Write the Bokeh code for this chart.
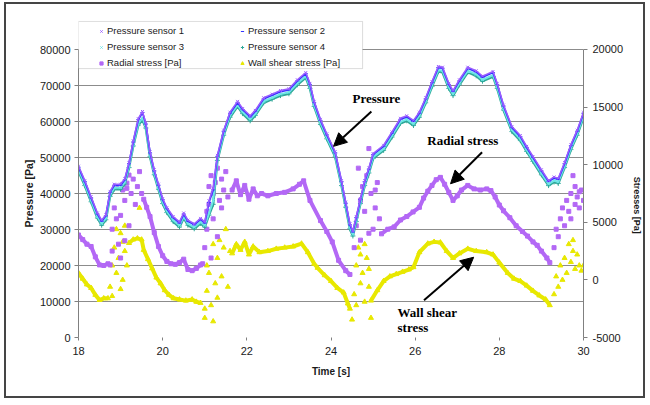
from bokeh.plotting import figure
from bokeh.models import (Range1d, LinearAxis, FixedTicker, NumeralTickFormatter, Legend,
                          LegendItem, Label, Arrow, NormalHead, BoxAnnotation)
from bokeh.embed import file_html
from bokeh.resources import INLINE

nan = float("nan")
NB = "\u00a0"

# ---------------- data ----------------
time_p = [18.0, 18.15, 18.3, 18.45, 18.55, 18.65, 18.75, 18.85, 19.0, 19.1,
          19.2, 19.3, 19.42, 19.52, 19.6, 19.7, 19.8, 19.9, 20.0, 20.1,
          20.25, 20.4, 20.5, 20.6, 20.75, 20.9, 21.0, 21.1, 21.2, 21.3,
          21.45, 21.6, 21.78, 21.9, 22.08, 22.2, 22.4, 22.6, 22.8, 23.0,
          23.2, 23.4, 23.5, 23.6, 23.75, 23.9, 24.1, 24.25, 24.35, 24.45,
          24.52, 24.6, 24.7, 24.8, 24.9, 25.0, 25.25, 25.45, 25.65, 25.8,
          25.96, 26.1, 26.25, 26.4, 26.55, 26.65, 26.8, 26.9, 27.05, 27.25,
          27.45, 27.6, 27.85, 27.95, 28.1, 28.3, 28.5, 28.65, 28.8, 29.0,
          29.17, 29.3, 29.4, 29.55, 29.7, 29.85, 30.0]
sensor1 = [47600, 43600, 39100, 34600, 32600, 34100, 40600, 42600, 42600, 44100,
           48600, 54600, 60800, 62800, 59600, 51600, 46600, 42600, 38600, 36100,
           33600, 32100, 34600, 32600, 31600, 33100, 32100, 38000, 41500, 50600,
           57600, 62600, 65600, 63600, 61600, 63100, 66600, 67600, 68600, 69100,
           71600, 73600, 70600, 65600, 60600, 56600, 51600, 43600, 37600, 31600,
           29600, 33600, 38600, 43600, 47100, 51100, 53400, 57100, 60900, 61600,
           60300, 62600, 66600, 71100, 75300, 75100, 70600, 68600, 71600, 75100,
           74100, 72600, 73900, 70600, 64600, 58600, 56100, 53100, 50300, 46600,
           43600, 44600, 44200, 48600, 53600, 57600, 62600]
sensor2 = [47300, 43300, 38800, 34300, 32300, 33800, 40300, 42300, 42300, 43800,
           48300, 54300, 60500, 62500, 59300, 51300, 46300, 42300, 38300, 35800,
           33300, 31800, 34300, 32300, 31300, 32800, 31800, 37500, 41000, 50300,
           57300, 62300, 65300, 63300, 61300, 62800, 66300, 67300, 68300, 68800,
           71300, 73300, 70300, 65300, 60300, 56300, 51300, 43300, 37300, 31300,
           29300, 33300, 38300, 43300, 46800, 50800, 53100, 56800, 60600, 61300,
           60000, 62300, 66300, 70800, 75000, 74800, 70300, 68300, 71300, 74800,
           73800, 72300, 73600, 70300, 64300, 58300, 55800, 52800, 50000, 46300,
           43300, 44300, 43900, 48300, 53300, 57300, 62300]
sensor3 = [46600, 42600, 38100, 33600, 31600, 33100, 39600, 41600, 41600, 43100,
           47600, 53600, 59400, 61000, 58600, 50600, 45600, 41600, 37600, 35100,
           32600, 31100, 33600, 31600, 30600, 32100, 31100, 34500, 38000, 49600,
           56600, 61600, 64600, 62600, 60600, 62100, 65600, 66600, 67600, 68100,
           70600, 72600, 69600, 64600, 59600, 55600, 50600, 42600, 36600, 30600,
           28600, 32600, 37600, 42600, 46100, 50100, 52400, 56100, 59900, 60600,
           59300, 61600, 65600, 70100, 74300, 74100, 69600, 67600, 70600, 74100,
           73100, 71600, 72900, 69600, 63600, 57600, 55100, 52100, 49300, 45600,
           42600, 43600, 43200, 47600, 52600, 56600, 61600]
sensor4 = [46200, 42200, 37700, 33200, 31200, 32700, 39200, 41200, 41200, 42700,
           47200, 53200, 59000, 60500, 58200, 50200, 45200, 41200, 37200, 34700,
           32200, 30700, 33200, 31200, 30200, 31700, 30700, 34000, 37000, 49200,
           56200, 61200, 64200, 62200, 60200, 61700, 65200, 66200, 67200, 67700,
           70200, 72200, 69200, 64200, 59200, 55200, 50200, 42200, 36200, 30200,
           28200, 32200, 37200, 42200, 45700, 49700, 52000, 55700, 59500, 60200,
           58900, 61200, 65200, 69700, 73900, 73700, 69200, 67200, 70200, 73700,
           72700, 71200, 72500, 69200, 63200, 57200, 54700, 51700, 48900, 45200,
           42200, 43200, 42800, 47200, 52200, 56200, 61200]

# radial stress, continuous stretches (right axis, Pa); nan separates stretches
radial_t = [18.0, 18.1, 18.2, 18.3, 18.4, 18.5, 18.6, 18.7, 18.75, nan,
            19.55, 19.62, 19.7, 19.8, 19.9, 20.0, 20.1, 20.2, 20.3, 20.4, 20.5, 20.6, 20.7, 20.8, 20.9, 20.95, nan,
            21.65, 21.75, 21.85, 21.95, 22.05, 22.15, 22.25, 22.35, 22.5, 22.7, 22.9, 23.1, 23.25, 23.35, 23.5,
            23.75, 23.9, 24.03, 24.18, 24.35, 24.45, nan,
            25.2, 25.35, 25.5, 25.65, 25.8, 25.95, 26.1, 26.2, 26.3, 26.4, 26.5, 26.6, 26.7, 26.8, 26.9, 27.0,
            27.1, 27.25, 27.4, 27.55, 27.7, 27.8, 27.9, 28.0, 28.1, 28.25, 28.4, 28.55, 28.67, 28.8, 28.9, 29.0,
            29.13, 29.2]
radial_v = [3900, 3500, 3100, 2900, 2000, 1300, 1250, 1400, 1300, nan,
            7000, 6300, 5500, 4100, 2900, 2100, 1600, 1400, 1350, 1500, 1800, 900, 800, 1000, 1300, 1400, nan,
            7800, 8600, 7400, 8200, 7000, 7900, 7300, 7500, 7300, 7500, 7600, 7900, 8300, 8600, 6900,
            5150, 4200, 3300, 1700, 800, 470, nan,
            4000, 4400, 4600, 5200, 5500, 5900, 6300, 7100, 7700, 8200, 8700, 8900, 8300, 7600, 6900, 7300,
            7800, 8200, 7900, 7800, 7900, 7750, 7200, 6500, 6000, 5400, 4700, 4200, 3800, 3300, 3000, 2500,
            1900, 1500]
# radial stress, scattered points
radial_sc_t = [18.8, 18.85, 18.9, 18.95, 19.0, 19.05, 19.1, 19.15, 19.2, 19.25, 19.3, 19.35, 19.4, 19.45, 19.5,
               18.8, 19.0, 19.1, 18.9, 19.2, 19.05, 19.15,
               21.0, 21.05, 21.1, 21.15, 21.2, 21.25, 21.3, 21.35, 21.4, 21.45, 21.5, 21.55,
               21.05, 21.2, 21.3, 21.15, 21.1, 21.4,
               24.55, 24.6, 24.65, 24.7, 24.75, 24.8, 24.85, 24.9, 24.95, 25.0, 25.05, 25.1, 25.15,
               24.7, 24.9, 25.05,
               29.3, 29.35, 29.4, 29.45, 29.5, 29.55, 29.6, 29.65, 29.7, 29.75, 29.8, 29.85, 29.9, 29.95, 30.0,
               29.7, 29.8, 29.9]
radial_sc_v = [4400, 6250, 8100, 3100, 5600, 7800, 6900, 8400, 9100, 7500, 8750, 6550, 8100, 9400, 7500,
               2500, 1900, 3400, 5300, 4700, 8300, 7950,
               2800, 4400, 6550, 9050, 7500, 8450, 9700, 6900, 8750, 7800, 9400, 7200,
               5950, 5300, 3750, 1900, 8100, 6250,
               2800, 4700, 9700, 6900, 8100, 5950, 9050, 11400, 7500, 4400, 6250, 8450, 5300,
               3450, 4050, 7800,
               2800, 4400, 3750, 5300, 6250, 4700, 6900, 5950, 7500, 9050, 6550, 7200, 6250, 7800, 6900,
               5300, 8100, 7650]

# wall shear stress, continuous stretches (right axis, Pa)
wall_t = [18.0, 18.1, 18.2, 18.3, 18.4, 18.5, 18.6, 18.7, nan,
          19.2, 19.3, 19.4, 19.5, 19.55, 19.65, 19.75, 19.85, 19.95, 20.05, 20.15, 20.26, 20.4, 20.55, 20.7,
          20.8, 20.9, nan,
          21.65, 21.75, 21.85, 21.95, 22.05, 22.15, 22.3, 22.5, 22.7, 22.9, 23.1, 23.3, 23.45, 23.6, 23.68,
          23.85, 24.0, 24.15, 24.3, 24.4, 24.45, nan,
          24.95, 25.1, 25.25, 25.4, 25.55, 25.7, 25.85, 25.96, 26.1, 26.3, 26.45, 26.6, 26.75, 26.9, 27.05,
          27.25, 27.45, 27.7, 27.85, 28.0, 28.2, 28.35, 28.5, 28.65, 28.8, 28.95, 29.1, 29.2]
wall_v = [600, 100, -400, -700, -1300, -1750, -1600, -1600, nan,
          3200, 3500, 3600, 3500, 2600, 1800, 1000, 200, -300, -900, -1300, -1600, -1700, -1800, -1700,
          -1900, -2000, nan,
          2300, 3100, 2600, 3300, 2200, 2900, 2400, 2500, 2700, 2800, 2900, 3150, 2400, 1400, 1050,
          400, -100, -700, -1100, -2050, -2500, nan,
          -1800, -900, -100, 300, 500, 700, 900, 1100, 2400, 3150, 3300, 3250, 2500, 1900, 2300,
          2700, 2500, 2400, 2200, 1500, 600, 100, -100, -500, -950, -1350, -1700, -2200]
wall_sc_t = [18.75, 18.8, 18.85, 18.9, 18.95, 19.0, 19.05, 19.1, 19.15, 18.9, 19.0, 19.1, 19.45, 18.8, 19.05,
             21.0, 21.05, 21.1, 21.15, 21.2, 21.25, 21.3, 21.35, 21.4, 21.45, 21.5, 21.55, 21.6,
             21.05, 21.2, 21.3, 21.0,
             24.5, 24.55, 24.6, 24.65, 24.7, 24.75, 24.8, 24.85, 24.9, 24.95, 24.6, 24.7, 24.8, 24.9,
             29.3, 29.35, 29.4, 29.45, 29.5, 29.55, 29.6, 29.65, 29.7, 29.75, 29.8, 29.85, 29.9, 29.95, 30.0,
             29.75]
wall_sc_v = [-600, 1250, 2800, 600, 1900, 4050, 0, 2500, 1250, 4400, -800, 4700, 6250, -1400, 3300,
             -3300, -950, 600, -2200, -3600, -300, 1900, 3450, 300, 2800, 4400, -600, 2500,
             1250, 3100, -1550, -2500,
             -3450, -1250, 1250, 2800, -300, 600, -1900, 1900, -600, -3300, -2200, 2200, 3100, 950,
             -1250, 300, -600, 1250, 0, 1900, 600, 3100, 1550, 3450, 950, 2200, 1250, 800, 1250,
             2500]

x_ticks = [18, 20, 22, 24, 26, 28, 30]
p_ticks = [0, 10000, 20000, 30000, 40000, 50000, 60000, 70000, 80000]
grid_ticks = [10000, 20000, 30000, 40000, 50000, 60000, 70000, 80000]
s_ticks = [-5000, 0, 5000, 10000, 15000, 20000]

legend_labels = ["Pressure sensor 1", "Pressure sensor 2", "Pressure sensor 3",
                 "Pressure sensor 4", "Radial stress [Pa]", "Wall shear stress [Pa]"]

note_text = ["Pressure", "Radial stress", "Wall shear", "stress"]
note_x = [24.51, 26.29, 25.58, 25.58]
note_y = [66400, 54700, 6900, 2800]
arrow_x0 = [24.96, 27.59, 26.21]
arrow_y0 = [62800, 51480, 10340]
arrow_x1 = [24.06, 26.84, 27.39]
arrow_y1 = [53100, 42700, 22300]

# ---------------- styling ----------------
SANS = "Liberation Sans"
SERIF = "Liberation Serif"
C_S1, C_S2, C_S3, C_S4 = "#9a5cff", "#3333ff", "#6ee6e6", "#2fa898"
C_RAD, C_WALL = "#b368f5", "#e8e800"

# The page frame is drawn by CSS around the canvas (canvas starts at page x=6, y=4).
# Plot frame is extended upwards so the legend is not clipped; axes keep their bounds.
p = figure(width=641, height=396, output_backend="svg", toolbar_location=None,
           x_range=Range1d(18, 30), y_range=Range1d(0, 88056),
           min_border_left=72, min_border_right=64, min_border_top=16, min_border_bottom=63,
           styles={"margin-left": "4px", "margin-top": "2px", "border": "2px solid #454545"})
p.extra_y_ranges = {"s": Range1d(-5000, 22517)}
p.background_fill_color = "white"
p.border_fill_color = "white"
p.outline_line_color = None
p.xgrid.visible = False
p.ygrid.ticker = FixedTicker(ticks=grid_ticks)
p.ygrid.grid_line_color = "#8c8c8c"
p.ygrid.grid_line_width = 1

# axes
xa = p.xaxis[0]
xa.ticker = FixedTicker(ticks=x_ticks)
xa.axis_line_color = None
xa.major_tick_line_color = "#808080"
xa.major_tick_in = 0
xa.major_tick_out = 3
xa.minor_tick_line_color = None
xa.major_label_standoff = 6
xa.major_label_text_font = SANS
xa.major_label_text_font_size = "11px"
xa.major_label_text_color = "#1a1a1a"
xa.axis_label = "Time [s]"
xa.axis_label_text_font = SANS
xa.axis_label_text_font_size = "10px"
xa.axis_label_text_font_style = "bold"
xa.axis_label_text_color = "#1a1a1a"
xa.axis_label_standoff = 8

ya = p.yaxis[0]
ya.bounds = (0, 80000)
ya.ticker = FixedTicker(ticks=p_ticks)
ya.formatter = NumeralTickFormatter(format="0")
ya.axis_line_color = "#808080"
ya.major_tick_line_color = "#808080"
ya.major_tick_in = 0
ya.major_tick_out = 4
ya.minor_tick_line_color = None
ya.major_label_standoff = 4
ya.major_label_text_font = SANS
ya.major_label_text_font_size = "11px"
ya.major_label_text_color = "#1a1a1a"
# trailing no-break spaces move the rotated label down to the centre of the bounded axis
ya.axis_label = "Pressure [Pa]" + NB * 10
ya.axis_label_text_font = SANS
ya.axis_label_text_font_size = "10.5px"
ya.axis_label_text_font_style = "bold"
ya.axis_label_text_color = "#1a1a1a"
ya.axis_label_standoff = 2

ra = LinearAxis(y_range_name="s", ticker=FixedTicker(ticks=s_ticks),
                formatter=NumeralTickFormatter(format="0"), bounds=(-5000, 20000))
ra.axis_line_color = "#808080"
ra.major_tick_line_color = "#808080"
ra.major_tick_in = 0
ra.major_tick_out = 4
ra.minor_tick_line_color = None
ra.major_label_standoff = 5
ra.major_label_text_font = SANS
ra.major_label_text_font_size = "11px"
ra.major_label_text_color = "#1a1a1a"
ra.axis_label = NB * 21 + "Stresses [Pa]"
ra.axis_label_text_font = SANS
ra.axis_label_text_font_size = "9px"
ra.axis_label_text_font_style = "bold"
ra.axis_label_text_color = "#1a1a1a"
ra.axis_label_standoff = 6
p.add_layout(ra, "right")

# stresses (right axis)
p.line(wall_t, wall_v, y_range_name="s", line_color=C_WALL, line_width=4)
r_wall = p.scatter(wall_t, wall_v, y_range_name="s", marker="triangle", size=5,
                   fill_color=C_WALL, line_color=C_WALL)
p.scatter(wall_sc_t, wall_sc_v, y_range_name="s", marker="triangle", size=5,
          fill_color=C_WALL, line_color=C_WALL)
p.line(radial_t, radial_v, y_range_name="s", line_color=C_RAD, line_width=4)
r_rad = p.scatter(radial_t, radial_v, y_range_name="s", marker="square", size=4,
                  fill_color=C_RAD, line_color=C_RAD)
p.scatter(radial_sc_t, radial_sc_v, y_range_name="s", marker="square", size=4,
          fill_color=C_RAD, line_color=C_RAD)

# pressure sensors (left axis)
p.line(time_p, sensor4, line_color=C_S4, line_width=2.5)
r_s4 = p.scatter(time_p, sensor4, marker="cross", size=5, line_color=C_S4)
p.line(time_p, sensor3, line_color=C_S3, line_width=2)
r_s3 = p.scatter(time_p, sensor3, marker="x", size=4, line_color=C_S3)
p.line(time_p, sensor2, line_color=C_S2, line_width=1.8)
r_s2 = p.scatter(time_p, sensor2, marker="dash", size=4, line_color=C_S2)
p.line(time_p, sensor1, line_color=C_S1, line_width=1.5)
r_s1 = p.scatter(time_p, sensor1, marker="x", size=4, line_color=C_S1)

# annotations
for t, x, y in zip(note_text, note_x, note_y):
    p.add_layout(Label(x=x, y=y, text=t, text_font=SERIF, text_font_size="13px",
                       text_font_style="bold", text_color="black", text_baseline="middle",
                       text_align="left"))
for x0, y0, x1, y1 in zip(arrow_x0, arrow_y0, arrow_x1, arrow_y1):
    p.add_layout(Arrow(x_start=x0, y_start=y0, x_end=x1, y_end=y1, line_width=2, line_color="black",
                       end=NormalHead(size=13, fill_color="black", line_color="black")))

# legend box (data units of the extended frame) and two legend columns
p.add_layout(BoxAnnotation(left=18.0, right=24.75, bottom=74700, top=87800,
                           fill_color="white", fill_alpha=1.0,
                           line_color="#8c8c8c", line_width=1))
common = dict(padding=3, spacing=5, label_height=10, glyph_height=10, glyph_width=8,
              label_standoff=2, border_line_color=None, background_fill_alpha=0,
              label_text_font=SANS, label_text_font_size="9.5px", label_text_color="#1a1a1a",
              margin=0)
leg1 = Legend(items=[LegendItem(label=legend_labels[0], renderers=[r_s1]),
                     LegendItem(label=legend_labels[2], renderers=[r_s3]),
                     LegendItem(label=legend_labels[4], renderers=[r_rad])],
              location=(19, 269), **common)
leg2 = Legend(items=[LegendItem(label=legend_labels[1], renderers=[r_s2]),
                     LegendItem(label=legend_labels[3], renderers=[r_s4]),
                     LegendItem(label=legend_labels[5], renderers=[r_wall])],
              location=(160, 269), **common)
p.add_layout(leg1)
p.add_layout(leg2)

open("out.html", "w").write(file_html(p, INLINE))
